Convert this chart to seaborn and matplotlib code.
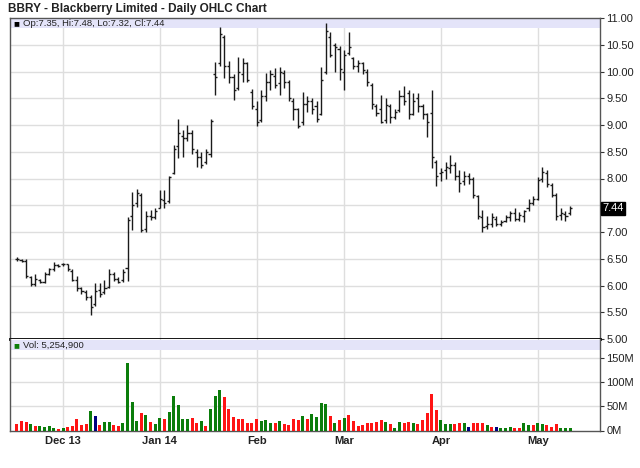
import numpy as np
import pandas as pd
import seaborn as sns
import matplotlib
matplotlib.use("Agg")
import matplotlib.pyplot as plt
from matplotlib.patches import Rectangle

# daily bars, Nov 18 2013 .. May 12 2014 (trading-day index)
opens = [6.50, 6.48, 6.46, 6.15, 6.03, 6.10, 6.07, 6.22, 6.30, 6.38,
         6.40, 6.40, 6.28, 6.10, 5.95, 5.88, 5.78, 5.65, 5.92, 5.88,
         5.98, 6.22, 6.12, 6.10, 6.32, 7.30, 7.55, 7.70, 7.05, 7.30,
         7.28, 7.45, 7.60, 7.58, 8.10, 8.60, 8.80, 8.75, 8.85, 8.50,
         8.40, 8.30, 8.45, 9.95, 10.15, 10.65, 10.10, 9.90, 9.70, 9.95,
         10.15, 9.62, 9.30, 9.10, 9.55, 9.80, 9.92, 9.78, 9.98, 9.80,
         9.45, 9.30, 9.05, 9.40, 9.45, 9.35, 9.20, 10.00, 10.65, 10.50,
         10.42, 10.00, 10.35, 10.25, 10.10, 10.15, 10.00, 9.75, 9.35, 9.30,
         9.10, 9.35, 9.15, 9.28, 9.55, 9.60, 9.20, 9.50, 9.35, 9.20,
         9.22, 8.30, 8.10, 8.15, 8.20, 8.25, 8.05, 7.95, 8.05, 8.00,
         7.68, 7.28, 7.12, 7.15, 7.25, 7.15, 7.20, 7.28, 7.35, 7.25,
         7.30, 7.45, 7.55, 7.62, 8.00, 8.10, 7.88, 7.70, 7.32, 7.33,
         7.35]
highs = [6.53, 6.50, 6.50, 6.17, 6.22, 6.13, 6.25, 6.33, 6.43, 6.40,
         6.42, 6.41, 6.30, 6.18, 5.98, 5.92, 5.82, 6.05, 6.05, 6.10,
         6.30, 6.26, 6.15, 6.30, 7.28, 7.75, 7.80, 7.72, 7.40, 7.42,
         7.45, 7.78, 7.78, 8.05, 8.62, 9.12, 8.90, 9.00, 8.90, 8.55,
         8.50, 8.55, 9.12, 10.18, 10.84, 10.68, 10.20, 9.95, 10.28, 10.25,
         10.18, 9.68, 9.45, 9.65, 9.97, 10.03, 10.06, 10.09, 10.02, 9.85,
         9.50, 9.31, 9.62, 9.55, 9.50, 9.45, 10.09, 10.90, 10.74, 10.53,
         10.48, 10.40, 10.74, 10.28, 10.22, 10.18, 10.05, 9.78, 9.40, 9.56,
         9.50, 9.40, 9.30, 9.65, 9.72, 9.65, 9.59, 9.60, 9.40, 9.22,
         9.65, 8.35, 8.20, 8.30, 8.44, 8.30, 8.16, 8.14, 8.10, 8.03,
         7.70, 7.41, 7.30, 7.35, 7.30, 7.22, 7.32, 7.40, 7.44, 7.38,
         7.42, 7.61, 7.68, 8.03, 8.22, 8.15, 7.91, 7.72, 7.45, 7.40,
         7.48]
lows = [6.46, 6.44, 6.14, 6.00, 6.00, 6.04, 6.05, 6.20, 6.28, 6.34,
        6.37, 6.28, 6.08, 5.90, 5.85, 5.72, 5.45, 5.62, 5.78, 5.85,
        5.95, 6.08, 6.04, 6.06, 6.08, 7.04, 7.47, 7.00, 7.00, 7.22,
        7.25, 7.44, 7.45, 7.55, 8.08, 8.38, 8.40, 8.70, 8.45, 8.22,
        8.20, 8.28, 8.40, 9.56, 10.10, 9.87, 9.78, 9.47, 9.65, 9.80,
        9.80, 9.30, 8.98, 9.05, 9.45, 9.65, 9.69, 9.56, 9.70, 9.44,
        9.09, 8.94, 9.00, 9.25, 9.20, 9.06, 9.18, 9.95, 10.28, 10.00,
        9.85, 9.65, 10.30, 10.05, 10.00, 9.95, 9.72, 9.30, 9.16, 9.03,
        9.03, 9.03, 9.12, 9.25, 9.37, 9.12, 9.18, 9.25, 9.12, 8.78,
        8.19, 7.86, 7.95, 8.00, 8.10, 7.98, 7.75, 7.88, 7.90, 7.63,
        7.25, 7.00, 7.05, 7.10, 7.12, 7.12, 7.18, 7.20, 7.20, 7.20,
        7.18, 7.40, 7.50, 7.60, 7.94, 7.85, 7.66, 7.22, 7.22, 7.20,
        7.32]
closes = [6.49, 6.46, 6.18, 6.03, 6.12, 6.07, 6.22, 6.30, 6.38, 6.36,
          6.40, 6.30, 6.10, 5.95, 5.90, 5.78, 5.60, 5.90, 5.85, 5.95,
          6.22, 6.12, 6.07, 6.25, 7.22, 7.50, 7.72, 7.03, 7.30, 7.28,
          7.40, 7.62, 7.55, 8.02, 8.55, 8.85, 8.75, 8.85, 8.55, 8.40,
          8.25, 8.50, 9.08, 9.90, 10.70, 10.10, 9.90, 9.65, 10.00, 10.15,
          9.85, 9.35, 9.05, 9.55, 9.80, 9.95, 9.75, 10.00, 9.80, 9.50,
          9.30, 8.98, 9.40, 9.45, 9.30, 9.12, 9.85, 10.75, 10.30, 10.45,
          10.05, 10.30, 10.45, 10.10, 10.15, 10.02, 9.80, 9.40, 9.22, 9.05,
          9.38, 9.15, 9.25, 9.55, 9.45, 9.20, 9.45, 9.35, 9.20, 9.05,
          8.40, 8.05, 8.12, 8.22, 8.25, 8.05, 7.92, 8.05, 8.00, 7.70,
          7.30, 7.10, 7.15, 7.28, 7.15, 7.18, 7.28, 7.35, 7.25, 7.32,
          7.40, 7.55, 7.62, 7.98, 8.12, 7.90, 7.70, 7.30, 7.35, 7.30,
          7.44]

# volume in millions, with the bar colour class shown in the chart
volume = [12.9, 19.8, 17.7, 12.9, 9.4, 9.4, 7.3, 9.4, 5.9, 3.8,
          5.9, 7.3, 9.4, 23.2, 11.5, 12.9, 40.6, 30.2, 11.5, 17.0,
          17.0, 11.5, 9.4, 14.9, 141.0, 59.0, 19.0, 36.5, 32.3, 17.0,
          12.9, 26.7, 23.2, 38.4, 72.4, 53.0, 24.6, 24.6, 26.7, 14.9,
          19.0, 9.4, 44.0, 72.4, 83.5, 69.0, 45.4, 28.0, 24.6, 23.2,
          14.9, 14.9, 23.2, 19.0, 21.0, 14.9, 14.9, 19.0, 12.9, 11.5,
          23.2, 21.0, 30.2, 24.6, 33.6, 28.0, 57.8, 55.0, 30.2, 14.9,
          21.8, 26.7, 32.3, 19.8, 9.4, 11.5, 14.9, 16.3, 18.4, 21.0,
          18.4, 12.9, 5.9, 17.7, 16.3, 17.7, 14.9, 12.9, 21.0, 35.6,
          75.8, 42.0, 21.0, 12.9, 12.9, 12.9, 14.9, 14.9, 8.0, 16.3,
          16.3, 16.3, 11.5, 7.3, 7.3, 5.9, 5.9, 8.0, 5.9, 5.9,
          14.9, 11.5, 11.5, 14.9, 12.9, 11.5, 8.0, 12.9, 5.9, 5.9,
          5.25]
direction = list("ddduduuuud" "udddddundu" "udduuuudud" "uuduuuuudd"
                 "uduuuddddd" "ddduuududd" "dduduuuudu" "dudddddddd"
                 "uduudduddd" "dduuuddund" "ddudnuuudd" "uuduuddduu"
                 "u")
last_volume = 5254900

month_idx = [10, 31, 52, 71, 92, 113]
month_labels = ["Dec 13", "Jan 14", "Feb", "Mar", "Apr", "May"]
price_ticks = [5.0, 5.5, 6.0, 6.5, 7.0, 7.5, 8.0, 8.5, 9.0, 9.5, 10.0, 10.5, 11.0]
vol_ticks = [0, 50, 100, 150]
last_close = 7.44

sns.set_style("white")
plt.rcParams["font.family"] = ["Liberation Sans", "DejaVu Sans"]

n = len(closes)
idx = np.arange(n)
df = pd.DataFrame({"idx": idx, "vol": volume, "dir": direction})
dir_colors = {"u": "#0b7d0b", "d": "#ff1414", "n": "#000080"}

fig = plt.figure(figsize=(6.4, 4.68), dpi=100)
ax = fig.add_axes([10 / 640, 1 - 339 / 468, 590 / 640, 321 / 468])
axv = fig.add_axes([10 / 640, 1 - 430.5 / 468, 590 / 640, 91.5 / 468])

grid_c = "#dedede"
text_c = "#222222"

# ---- price panel
ax.set_xlim(-1.5, 126.5)
ax.set_ylim(5, 11)
for m in month_idx:
    ax.axvline(m, color=grid_c, lw=1, zorder=0)
for p in price_ticks:
    ax.axhline(p, color=grid_c, lw=1, zorder=0)
ax.add_patch(Rectangle((0, 1 - 10 / 321), 1, 10 / 321, transform=ax.transAxes,
                       color="#e4e4f9", zorder=1, lw=0))
ax.vlines(idx, lows, highs, color="#1a1a1a", lw=1.0, zorder=3)
ax.hlines(opens, idx - 0.45, idx, color="#1a1a1a", lw=1.0, zorder=3)
ax.hlines(closes, idx, idx + 0.45, color="#1a1a1a", lw=1.0, zorder=3)

ax.yaxis.tick_right()
ax.set_yticks(price_ticks)
ax.set_yticklabels(["" if p == 7.5 else f"{p:.2f}" for p in price_ticks])
ax.tick_params(axis="y", direction="out", length=3, width=0.8, color="#333333",
               labelsize=8, labelcolor=text_c, pad=1.5)
ax.set_xticks([])
for s in ["left", "top", "right"]:
    ax.spines[s].set_color("#555555")
    ax.spines[s].set_linewidth(1)
ax.spines["bottom"].set_color("black")
ax.spines["bottom"].set_linewidth(2)

ax.text(0.006, 1 - 5 / 321, "■", transform=ax.transAxes, fontsize=7,
        va="center", ha="left", color="black", zorder=4)
ax.text(0.022, 1 - 5 / 321, f"Op:{opens[-1]:.2f}, Hi:{highs[-1]:.2f}, "
        f"Lo:{lows[-1]:.2f}, Cl:{closes[-1]:.2f}", transform=ax.transAxes,
        fontsize=6.8, va="center", ha="left", color=text_c, zorder=4)
ax.text(1.004, last_close, f"{last_close:.2f}",
        transform=ax.get_yaxis_transform(), fontsize=8, color="white",
        va="center", ha="left", zorder=5, clip_on=False,
        bbox=dict(boxstyle="square,pad=0.12", fc="black", ec="black"))

# ---- volume panel
sns.barplot(data=df, x="idx", y="vol", hue="dir", palette=dir_colors,
            native_scale=True, width=0.65, dodge=False, legend=False,
            errorbar=None, saturation=1, linewidth=0, ax=axv, zorder=3)
axv.set_xlim(-1.5, 126.5)
axv.set_ylim(0, 190)
for m in month_idx:
    axv.axvline(m, color=grid_c, lw=1, zorder=0)
for v in vol_ticks[1:]:
    axv.axhline(v, color=grid_c, lw=1, zorder=0)
axv.add_patch(Rectangle((0, 1 - 11 / 91.5), 1, 10 / 91.5, transform=axv.transAxes,
                        color="#e4e4f9", zorder=1, lw=0))
axv.yaxis.tick_right()
axv.set_yticks(vol_ticks)
axv.set_yticklabels([f"{v}M" for v in vol_ticks])
axv.set_xticks(month_idx)
axv.set_xticklabels(month_labels, fontweight="bold")
axv.tick_params(axis="y", direction="out", length=3, width=0.8, color="#333333",
                labelsize=8, labelcolor=text_c, pad=1.5)
axv.tick_params(axis="x", direction="out", length=2, width=0.8, color="#333333",
                labelsize=8, labelcolor=text_c, pad=2)
axv.set_xlabel("")
axv.set_ylabel("")
for s in ["left", "right", "bottom"]:
    axv.spines[s].set_color("#555555")
    axv.spines[s].set_linewidth(1)
axv.spines["top"].set_visible(False)

axv.text(0.006, 1 - 6 / 91.5, "■", transform=axv.transAxes, fontsize=7,
         va="center", ha="left", color=dir_colors["u"], zorder=4)
axv.text(0.022, 1 - 6 / 91.5, f"Vol: {last_volume:,}",
         transform=axv.transAxes, fontsize=6.8, va="center", ha="left",
         color=text_c, zorder=4)

fig.text(8 / 640, 1 - 9 / 468, "BBRY - Blackberry Limited - Daily OHLC Chart",
         fontsize=8.5, fontweight="bold", color=text_c, va="center", ha="left")

fig.savefig("out.png", dpi=100)
